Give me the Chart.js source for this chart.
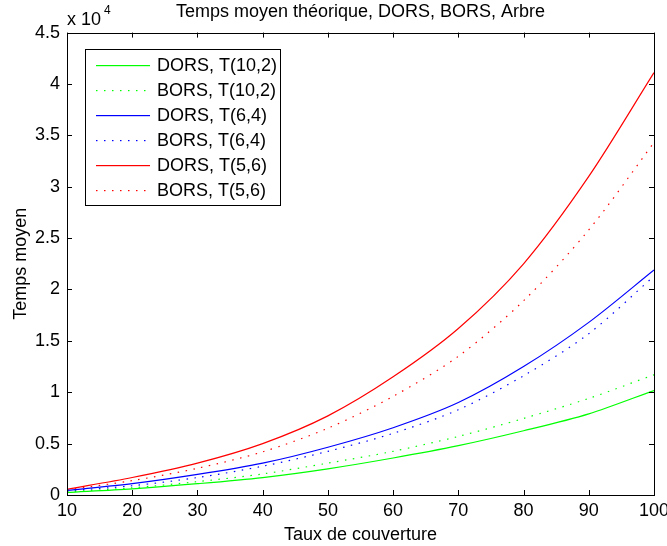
<!DOCTYPE html>
<html>
<head>
<meta charset="utf-8">
<script src="https://cdn.jsdelivr.net/npm/chart.js@4/dist/chart.umd.min.js"></script>
<style>
  html, body { margin: 0; padding: 0; background: #fff; }
  #wrap { width: 667px; height: 546px; }
</style>
</head>
<body>
<div id="wrap"><canvas id="chart" width="667" height="546"></canvas></div>
<script>
// Taux de couverture (axe x)
const coverage = [10, 20, 30, 40, 50, 60, 70, 80, 90, 100];

// Temps moyen
const dorsT10_2 = [250, 600, 1100, 1700, 2550, 3600, 4800, 6250, 7900, 10170];
const borsT10_2 = [300, 700, 1300, 2050, 3100, 4250, 5700, 7450, 9400, 11700];
const dorsT6_4 = [450, 1100, 2000, 3100, 4650, 6550, 9000, 12500, 16800, 21900];
const borsT6_4 = [400, 900, 1700, 2800, 4250, 6000, 8300, 11600, 15700, 21300];
const dorsT5_6 = [550, 1700, 3100, 5000, 7700, 11500, 16200, 22500, 31000, 41100];
const borsT5_6 = [500, 1400, 2600, 4200, 6500, 9600, 13500, 18900, 25800, 34300];

const yTicks = [0, 5000, 10000, 15000, 20000, 25000, 30000, 35000, 40000, 45000];
const xTicks = [10, 20, 30, 40, 50, 60, 70, 80, 90, 100];

const FONT = 'Liberation Sans, Arial, Helvetica, sans-serif';
const FS = 18;

function pts(values) {
    return coverage.map((x, i) => ({ x: x, y: values[i] }));
}

function serie(label, values, color, dotted) {
    return {
        label: label,
        data: pts(values),
        borderColor: color,
        backgroundColor: color,
        borderWidth: 1.2,
        borderDash: dotted ? [1.5, 6.5] : [],
        pointRadius: 0,
        tension: 0.3,
        fill: false
    };
}

// Cadre façon MATLAB : boîte, graduations vers l'intérieur, "x 10^4", légende
const matlabBox = {
    id: 'matlabBox',
    afterDraw(chart) {
        const ctx = chart.ctx;
        const a = chart.chartArea;
        const xs = chart.scales.x, ys = chart.scales.y;
        ctx.save();
        ctx.strokeStyle = '#000';
        ctx.lineWidth = 1;
        ctx.setLineDash([]);
        ctx.strokeRect(Math.round(a.left) + 0.5, Math.round(a.top) + 0.5,
            Math.round(a.right - a.left), Math.round(a.bottom - a.top));
        const tl = 5;
        ctx.beginPath();
        xTicks.forEach(v => {
            const px = Math.round(xs.getPixelForValue(v)) + 0.5;
            ctx.moveTo(px, a.bottom); ctx.lineTo(px, a.bottom - tl);
            ctx.moveTo(px, a.top); ctx.lineTo(px, a.top + tl);
        });
        yTicks.forEach(v => {
            const py = Math.round(ys.getPixelForValue(v)) + 0.5;
            ctx.moveTo(a.left, py); ctx.lineTo(a.left + tl, py);
            ctx.moveTo(a.right, py); ctx.lineTo(a.right - tl, py);
        });
        ctx.stroke();

        // multiplicateur
        ctx.fillStyle = '#000';
        ctx.textAlign = 'left';
        ctx.textBaseline = 'alphabetic';
        ctx.font = FS + 'px ' + FONT;
        ctx.fillText('x 10', a.left, 25);
        ctx.font = '12px ' + FONT;
        ctx.fillText('4', a.left + 37, 14);

        // légende
        const lx = 85, ly = 49, lw = 195, lh = 156;
        ctx.fillStyle = '#fff';
        ctx.fillRect(lx, ly, lw, lh);
        ctx.strokeStyle = '#000';
        ctx.lineWidth = 1;
        ctx.strokeRect(lx + 0.5, ly + 0.5, lw, lh);
        ctx.font = FS + 'px ' + FONT;
        ctx.textBaseline = 'middle';
        chart.data.datasets.forEach((ds, i) => {
            const y = Math.round(ly + 16 + i * 25);
            ctx.fillStyle = ds.borderColor;
            if (ds.borderDash.length) {
                for (let x = 96; x <= 150; x += 8) ctx.fillRect(x, y, 1.5, 1.2);
            } else {
                ctx.fillRect(96, y, 54, 1.2);
            }
            ctx.fillStyle = '#000';
            ctx.fillText(ds.label, 157, y + 1.5);
        });
        ctx.restore();
    }
};

const ctx = document.getElementById('chart').getContext('2d');
const chart = new Chart(ctx, {
    type: 'line',
    data: {
        datasets: [
            serie('DORS, T(10,2)', dorsT10_2, '#00ff00', false),
            serie('BORS, T(10,2)', borsT10_2, '#00ff00', true),
            serie('DORS, T(6,4)', dorsT6_4, '#0000ff', false),
            serie('BORS, T(6,4)', borsT6_4, '#0000ff', true),
            serie('DORS, T(5,6)', dorsT5_6, '#ff0000', false),
            serie('BORS, T(5,6)', borsT5_6, '#ff0000', true)
        ]
    },
    options: {
        responsive: false,
        animation: false,
        layout: { padding: { left: 10, right: 13, top: 0, bottom: 0 } },
        plugins: {
            legend: { display: false },
            tooltip: { enabled: false },
            title: {
                display: true,
                text: 'Temps moyen théorique, DORS, BORS, Arbre',
                fullSize: false,
                color: '#000',
                font: { family: FONT, size: FS, weight: 'normal' },
                padding: { top: 1, bottom: 10 }
            }
        },
        scales: {
            x: {
                type: 'linear',
                min: 10,
                max: 100,
                afterBuildTicks: s => { s.ticks = xTicks.map(v => ({ value: v })); },
                afterFit: s => { s.height = 51; s.paddingLeft = 0; s.paddingRight = 0; },
                grid: { display: false, drawTicks: false },
                border: { display: false },
                ticks: {
                    color: '#000',
                    padding: 5,
                    maxRotation: 0,
                    font: { family: FONT, size: FS }
                },
                title: {
                    display: true,
                    text: 'Taux de couverture',
                    color: '#000',
                    font: { family: FONT, size: FS },
                    padding: { top: 1, bottom: 0 }
                }
            },
            y: {
                type: 'linear',
                min: 0,
                max: 45000,
                afterBuildTicks: s => { s.ticks = yTicks.map(v => ({ value: v })); },
                afterFit: s => { s.width = 57; s.paddingTop = 0; s.paddingBottom = 0; },
                grid: { display: false, drawTicks: false },
                border: { display: false },
                ticks: {
                    color: '#000',
                    padding: 7,
                    font: { family: FONT, size: FS },
                    callback: v => String(v / 10000)
                },
                title: {
                    display: true,
                    text: 'Temps moyen',
                    color: '#000',
                    font: { family: FONT, size: FS },
                    padding: { top: 0, bottom: 2 }
                }
            }
        }
    },
    plugins: [matlabBox]
});
</script>
</body>
</html>
